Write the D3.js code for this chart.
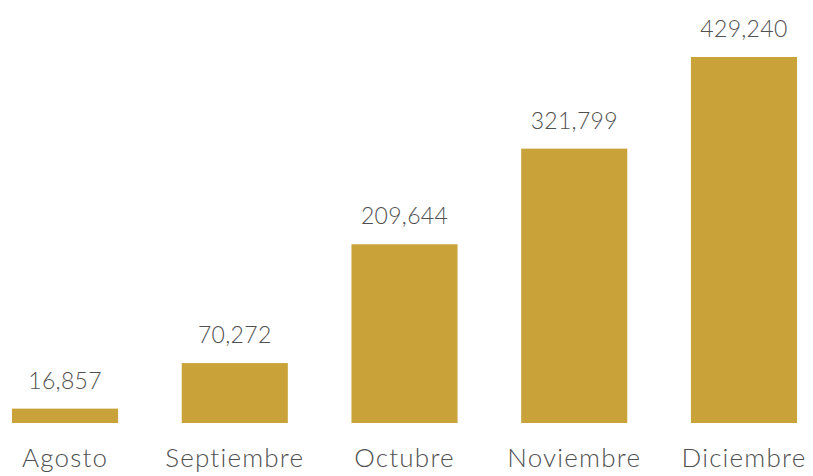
<!DOCTYPE html>
<html>
<head>
<meta charset="utf-8">
<script src="https://cdn.jsdelivr.net/npm/d3@7"></script>
<style>
  html, body { margin: 0; padding: 0; background: #ffffff; }
  svg { display: block; }
</style>
</head>
<body>
<svg id="chart" width="813" height="476"></svg>
<script>
// Monthly totals
const months = ["Agosto", "Septiembre", "Octubre", "Noviembre", "Diciembre"];
const totals = [16857, 70272, 209644, 321799, 429240];

const width = 813, height = 476;
const baseline = 423;
const barColor = "#c9a33a";
const textColor = "#505050";
const fontFamily = "Lato, 'Open Sans', sans-serif";

const svg = d3.select("#chart");

const x = d3.scaleBand()
  .domain(months)
  .range([12, 797])
  .paddingInner(0.375)
  .paddingOuter(0);

const y = d3.scaleLinear()
  .domain([0, 429240])
  .range([baseline, 57]);

const data = months.map((m, i) => ({ month: m, value: totals[i] }));

// Bars
svg.append("g")
  .selectAll("rect")
  .data(data)
  .join("rect")
  .attr("x", d => x(d.month))
  .attr("y", d => y(d.value))
  .attr("width", x.bandwidth())
  .attr("height", d => baseline - y(d.value))
  .attr("fill", barColor);

// Value labels above bars
svg.append("g")
  .selectAll("text")
  .data(data)
  .join("text")
  .attr("x", d => x(d.month) + x.bandwidth() / 2)
  .attr("y", d => y(d.value) - 20)
  .attr("text-anchor", "middle")
  .attr("font-family", fontFamily)
  .attr("font-weight", 300)
  .attr("font-size", 23)
  .attr("letter-spacing", 0.3)
  .attr("fill", textColor)
  .text(d => d3.format(",")(d.value));

// Category axis (no line or ticks)
const xAxis = svg.append("g")
  .attr("transform", `translate(0,${baseline})`)
  .call(d3.axisBottom(x).tickSize(0).tickPadding(26));
xAxis.select(".domain").remove();
xAxis.selectAll("text")
  .attr("font-family", fontFamily)
  .attr("font-weight", 300)
  .attr("font-size", 26)
  .attr("letter-spacing", 1.2)
  .attr("fill", textColor)
  .attr("dy", "0.71em");
</script>
</body>
</html>
